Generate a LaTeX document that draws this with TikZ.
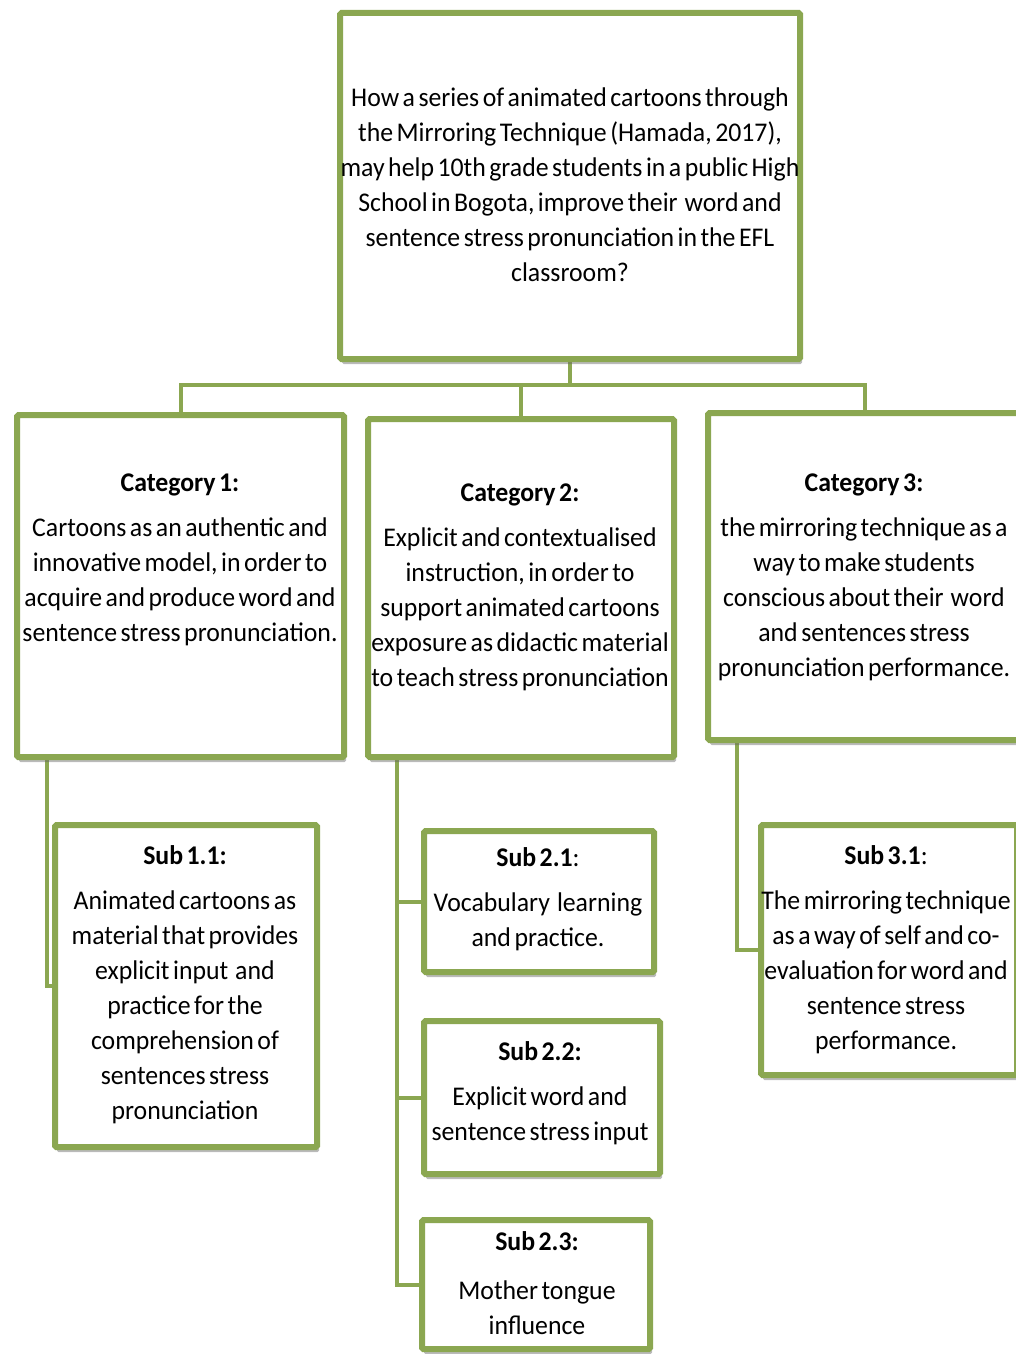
\documentclass[tikz,border=0pt]{standalone}
\usepackage{fontspec}
\setmainfont{Carlito}[FakeStretch=0.955,WordSpace=0.6]
\usetikzlibrary{shadows,backgrounds}
\definecolor{olive}{RGB}{139,167,81}
\tikzset{
  box/.style={draw=olive,line width=6pt,fill=white,rounded corners=1.5pt,
    inner sep=0pt,drop shadow={shadow xshift=2pt,shadow yshift=-5pt,opacity=0.45,fill=black!60}},
  txt/.style={align=center,inner sep=0pt,font=\fontsize{27}{35}\selectfont},
  conn/.style={draw=olive,line width=4pt}
}
\begin{document}
\begin{tikzpicture}[x=1pt,y=-1pt]
\useasboundingbox (0,0) rectangle (1015,1354);
% boxes
\node[box,minimum width=460pt,minimum height=346pt] (b0) at (570,186) {};
\node[box,minimum width=327pt,minimum height=342pt] (b1) at (180.5,586) {};
\node[box,minimum width=306pt,minimum height=338pt] (b2) at (521,588) {};
\node[box,minimum width=314pt,minimum height=327pt] (b3) at (865,576.5) {};
\node[box,minimum width=262pt,minimum height=322pt] (b11) at (186,986) {};
\node[box,minimum width=230pt,minimum height=141pt] (b21) at (539,901.5) {};
\node[box,minimum width=236pt,minimum height=153pt] (b22) at (542,1097.5) {};
\node[box,minimum width=228pt,minimum height=129pt] (b23) at (536,1284.5) {};
\node[box,minimum width=256pt,minimum height=250pt] (b31) at (889,950) {};
% texts
\node[txt] (t0) at (570,185) {How a series of animated cartoons through\\the Mirroring Technique (Hamada, 2017),\\may help 10th grade students in a public High\\School in Bogota, improve their\ \ word and\\sentence stress pronunciation in the EFL\\classroom?};
\node[txt] (t1) at (180,560) {\textbf{Category 1:}\\[10pt]Cartoons as an authentic and\\innovative model, in order to\\acquire and produce word and\\sentence stress pronunciation.};
\node[txt] (t2) at (520,587) {\textbf{Category 2:}\\[10pt]Explicit and contextualised\\instruction, in order to\\support animated cartoons\\exposure as didactic material\\to teach stress pronunciation};
\node[txt] (t3) at (864,577) {\textbf{Category 3:}\\[10pt]the mirroring technique as a\\way to make students\\conscious about their\ \ word\\and sentences stress\\pronunciation performance.};
\node[txt] (t11) at (185,985) {\textbf{Sub 1.1:}\\[10pt]Animated cartoons as\\material that provides\\explicit input\ \ and\\practice for the\\comprehension of\\sentences stress\\pronunciation};
\node[txt] (t21) at (538,899) {\textbf{Sub 2.1}:\\[10pt]Vocabulary\ \ learning\\and practice.};
\node[txt] (t22) at (540,1093) {\textbf{Sub 2.2:}\\[10pt]Explicit word and\\sentence stress input};
\node[txt] (t23) at (537,1283) {\textbf{Sub 2.3:}\\[14pt]Mother tongue\\influence};
\node[txt] (t31) at (886,950) {\textbf{Sub 3.1}:\\[10pt]The mirroring technique\\as a way of self and co-\\evaluation for word and\\sentence stress\\performance.};
% connectors
\coordinate (j) at (570,385);
\begin{scope}[on background layer]
\draw[conn] (b0.south) -- (j);
\draw[conn] (j) -| (b1.north);
\draw[conn] (j) -| (b2.north);
\draw[conn] (j) -| (b3.north);
\draw[conn] ([xshift=33pt]b1.south west) |- (b11.west);
\draw[conn] ([xshift=32pt]b2.south west) |- (b21.west);
\draw[conn] ([xshift=32pt]b2.south west) |- (b22.west);
\draw[conn] ([xshift=32pt]b2.south west) |- (b23.west);
\draw[conn] ([xshift=32pt]b3.south west) |- (b31.west);
\end{scope}
\end{tikzpicture}
\end{document}
